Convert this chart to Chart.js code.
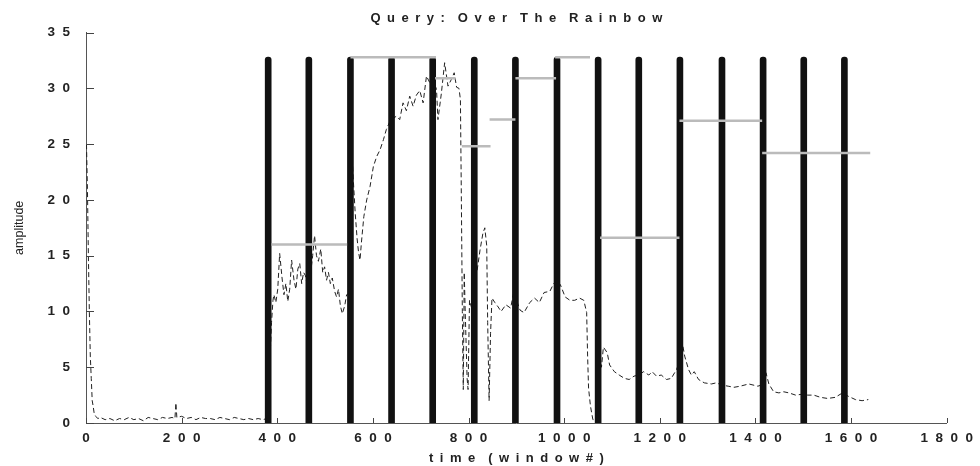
<!DOCTYPE html>
<html>
<head>
<meta charset="UTF-8">
<title>Query: Over The Rainbow</title>
<script src="https://cdn.jsdelivr.net/npm/chart.js"></script>
<style>
  html, body { margin: 0; padding: 0; background: #fff; }
  #wrap { width: 980px; height: 466px; }
</style>
</head>
<body>
<div id="wrap"><canvas id="chart"></canvas></div>
<script>
// amplitude curve (time in windows, amplitude)
const timeX = [1, 3, 5, 7, 9, 11, 13, 15, 17, 20, 25, 30, 40, 50, 60, 70, 80, 90, 100, 110, 120, 130, 140, 150, 160, 170, 180, 186, 188, 190, 200, 210, 220, 230, 240, 250, 260, 270, 280, 290, 300, 310, 320, 330, 340, 350, 360, 370, 378, 382, 385, 388, 391,
  393, 397, 401, 405, 410, 414, 418, 422, 426, 430, 435, 439, 443, 447, 451, 455, 459, 464, 470, 474, 478, 482, 486, 491, 495, 499, 503, 507, 511, 515, 520, 524, 528, 532, 536, 541, 545, 549,
  553, 556, 559, 563, 567, 570, 573, 576, 581, 587, 594, 601, 608, 615, 622, 628, 635, 642, 649, 656, 663, 670, 677, 684, 691, 698, 705, 712, 719, 726, 733, 736, 743, 750, 757, 764, 770, 775, 780, 783,
  785, 787, 789, 791, 793, 795, 797, 799, 802, 806, 810, 814, 818, 824, 830, 834, 838, 840, 843, 846, 849, 855, 862, 868, 878, 888, 898, 902, 908, 916, 928, 938, 948, 958, 970, 978, 985, 992, 1002, 1012, 1022, 1032, 1041, 1047, 1049, 1051, 1055, 1060, 1066, 1070,
  1072, 1075, 1078, 1082, 1090, 1095, 1105, 1115, 1126, 1136, 1146, 1156, 1166, 1177, 1184, 1193, 1203, 1214, 1224, 1235, 1241, 1247, 1252, 1260, 1266, 1272, 1281, 1293, 1308, 1318, 1330, 1343, 1355, 1368, 1386, 1405, 1412,
  1422, 1428, 1438, 1449, 1459, 1470, 1484, 1501, 1509, 1522, 1536, 1551, 1567, 1582, 1594, 1609, 1623, 1636];
const ampY = [25, 21, 15, 10, 6, 4, 2, 1.5, 0.9, 0.6, 0.4, 0.5, 0.3, 0.4, 0.2, 0.4, 0.3, 0.5, 0.3, 0.4, 0.2, 0.5, 0.4, 0.3, 0.5, 0.4, 0.5, 0.4, 1.8, 0.5, 0.6, 0.4, 0.5, 0.3, 0.5, 0.4, 0.4, 0.3, 0.5, 0.4, 0.3, 0.5, 0.4, 0.3, 0.4, 0.3, 0.4, 0.3, 0.4, 2, 6, 9, 11,
  11.5, 10.8, 12, 15.2, 13, 11.5, 12.5, 10.9, 12, 14.6, 12.8, 12, 13.8, 14.3, 12.5, 13.5, 13.2, 12, 13.5, 15, 16.8, 15, 14.5, 15.6, 13.5, 14, 12.8, 13.5, 12.5, 13, 11.8, 11.3, 12, 10.5, 9.8, 10.5, 11.5, 11.6,
  20, 24.3, 21.8, 18.8, 16.5, 15.3, 14.6, 16.2, 18.5, 20, 21.2, 23, 23.9, 24.5, 25.4, 26.3, 27, 27.3, 27.5, 27.2, 28.7, 28, 29.3, 28.4, 29.4, 29.8, 28.7, 31.1, 30.5, 30.8, 29.9, 27.2, 29.5, 32.3, 30.2, 30.8, 31.4, 30.1, 30, 29,
  20, 10, 3, 13.5, 10, 7, 4, 3, 11, 10.4, 11, 14, 13.7, 15.5, 17, 17.5, 15.9, 9, 2, 8, 11.2, 10.8, 10.4, 10, 10.6, 10.3, 12.5, 10.8, 10.1, 9.9, 10.8, 11.2, 10.8, 11.7, 11.8, 12.5, 12.8, 12.4, 11.3, 11, 11, 11.2, 11, 9.9, 6, 3.1, 1.5, 0.3, 0.3, 0.5,
  3, 6, 5, 6.8, 6.3, 5.2, 4.6, 4.3, 4.0, 3.9, 4.2, 4.3, 4.6, 4.3, 4.6, 4.2, 4.3, 3.9, 4.0, 4.8, 5.5, 7.2, 6, 4.8, 4.3, 4.6, 3.9, 3.6, 3.5, 3.6, 3.4, 3.3, 3.2, 3.3, 3.5, 3.3, 3.4,
  4.5, 3.5, 2.8, 2.7, 2.8, 2.7, 2.5, 2.6, 2.5, 2.5, 2.3, 2.2, 2.3, 2.7, 2.4, 2.1, 2.0, 2.1];

// note boundaries (black bars)
const barX = [381, 466, 553, 639, 725, 812, 898, 985, 1071, 1156, 1242, 1330, 1416, 1501, 1586];
const barTop = 32.8;

// note levels (gray steps)
const stepStart = [388, 553, 730, 786, 844, 898, 981, 1075, 1241, 1414];
const stepEnd   = [546, 732, 773, 846, 898, 983, 1054, 1241, 1414, 1640];
const stepLevel = [16.0, 32.8, 30.9, 24.8, 27.2, 30.9, 32.8, 16.6, 27.1, 24.2];

const curve = timeX.map((x, i) => ({ x: x, y: ampY[i] }));
const bars = barX.map(x => ({ x: x, y: barTop }));
const steps = [];
stepStart.forEach((s, i) => {
  steps.push({ x: s, y: stepLevel[i] });
  steps.push({ x: stepEnd[i], y: stepLevel[i] });
  steps.push({ x: stepEnd[i], y: null });
});

// spread letters the way the original print does
const EN = '\u2002';
const spread = s => s.split(' ').map(w => w.split('').join(EN)).join(EN + EN);
const spaced = v => String(v).split('').join('  ');

// small tick marks pointing into the plot
const innerTicks = {
  id: 'innerTicks',
  afterDraw(chart) {
    const { ctx, chartArea, scales } = chart;
    ctx.save();
    ctx.strokeStyle = '#444';
    ctx.lineWidth = 1;
    ctx.beginPath();
    scales.y.ticks.forEach(t => {
      const p = Math.round(scales.y.getPixelForValue(t.value)) + 0.5;
      ctx.moveTo(chartArea.left, p);
      ctx.lineTo(chartArea.left + 8, p);
    });
    scales.x.ticks.forEach(t => {
      const p = Math.round(scales.x.getPixelForValue(t.value)) + 0.5;
      ctx.moveTo(p, chartArea.bottom);
      ctx.lineTo(p, chartArea.bottom - 5);
    });
    ctx.stroke();
    ctx.restore();
  }
};

const tickFont = { family: 'Arial', size: 13.5, weight: 'bold' };

new Chart(document.getElementById('chart'), {
  type: 'line',
  data: {
    datasets: [
      {
        type: 'line', label: 'note level', data: steps,
        borderColor: '#bbbbbb', borderWidth: 2.5, pointRadius: 0, spanGaps: false, order: 0
      },
      {
        type: 'bar', label: 'boundary', data: bars,
        backgroundColor: '#111', barThickness: 6,
        borderRadius: { topLeft: 3, topRight: 3 }, borderSkipped: 'start', order: 1
      },
      {
        type: 'line', label: 'amplitude', data: curve,
        borderColor: '#222', borderWidth: 1, borderDash: [5, 3],
        pointRadius: 0, tension: 0, order: 2
      }
    ]
  },
  options: {
    responsive: true,
    maintainAspectRatio: false,
    animation: false,
    layout: { padding: { left: 0, right: 28, top: 0, bottom: 0 } },
    plugins: {
      legend: { display: false },
      tooltip: { enabled: false },
      title: {
        display: true,
        text: spread('Query: Over The Rainbow'),
        fullSize: false,
        color: '#222',
        font: { family: 'Arial', size: 13, weight: 'bold' },
        padding: { top: 11, bottom: 6 }
      }
    },
    scales: {
      x: {
        type: 'linear', min: 0, max: 1800, offset: false,
        grid: { display: false, drawTicks: false },
        border: { display: true, color: '#555' },
        ticks: { stepSize: 200, padding: 7, color: '#222', font: tickFont, maxRotation: 0, autoSkip: false, callback: spaced },
        title: {
          display: true, text: spread('time (window#)'), color: '#222',
          font: { family: 'Arial', size: 13, weight: 'bold' }, padding: { top: 0, bottom: 0 }
        },
        afterFit(s) { s.height = 43; }
      },
      y: {
        min: 0, max: 35,
        grid: { display: false, drawTicks: false },
        border: { display: true, color: '#555' },
        ticks: { stepSize: 5, padding: 16, color: '#222', font: tickFont, callback: spaced },
        title: {
          display: true, text: 'amplitude', color: '#222',
          font: { family: 'Arial', size: 12.5 }, padding: { top: 12, bottom: 0 }
        },
        afterFit(s) { s.width = 86; }
      }
    }
  },
  plugins: [innerTicks]
});
</script>
</body>
</html>
